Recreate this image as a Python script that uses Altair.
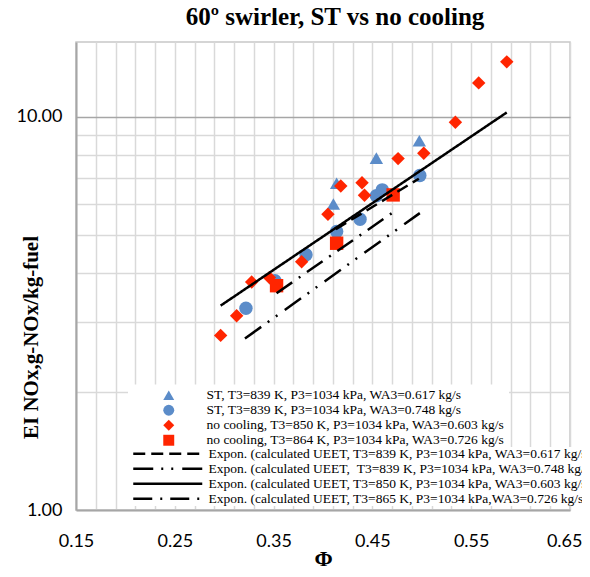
import altair as alt
import pandas as pd

# ---- series names (legend text) ----
series_names = [
    "ST, T3=839 K, P3=1034 kPa, WA3=0.617 kg/s",
    "ST, T3=839 K, P3=1034 kPa, WA3=0.748 kg/s",
    "no cooling, T3=850 K, P3=1034 kPa, WA3=0.603 kg/s",
    "\u00a0no cooling, T3=864 K, P3=1034 kPa, WA3=0.726 kg/s",
]
fit_names = [
    "Expon. (calculated UEET, T3=839 K, P3=1034 kPa, WA3=0.617 kg/s\")",
    "Expon. (calculated UEET, \u00a0T3=839 K, P3=1034 kPa, WA3=0.748 kg/s\")",
    "Expon. (calculated UEET, T3=850 K, P3=1034 kPa, WA3=0.603 kg/s\")",
    "Expon. (calculated UEET, T3=865 K, P3=1034 kPa,WA3=0.726 kg/s\")",
]

# ---- measured points ----
tri_phi = [0.4105, 0.4138, 0.454, 0.4975]
tri_ei = [6.0, 6.78, 7.85, 8.69]
circ_phi = [0.322, 0.3514, 0.3828, 0.4138, 0.4375, 0.454, 0.460, 0.498]
circ_ei = [3.26, 3.83, 4.46, 5.11, 5.49, 6.30, 6.52, 7.09]
dia_phi = [0.2964, 0.3126, 0.3278, 0.3457, 0.3784, 0.405, 0.418, 0.4395, 0.442, 0.476, 0.502, 0.534, 0.5576, 0.586]
dia_ei = [2.78, 3.12, 3.80, 3.90, 4.28, 5.65, 6.67, 6.80, 6.32, 7.83, 8.08, 9.69, 12.2, 13.8]
sq_phi = [0.353, 0.4138, 0.471]
sq_ei = [3.72, 4.77, 6.33]

# ---- exponential fits (end points, straight on log axis) ----
fit1_phi = [0.413, 0.497]
fit1_ei = [5.18, 6.96]
fit2_phi = [0.321, 0.498]
fit2_ei = [2.73, 5.69]
fit3_phi = [0.2964, 0.586]
fit3_ei = [3.31, 10.26]
fit4_phi = [0.353, 0.472]
fit4_ei = [3.56, 5.74]

# ---- axis ticks ----
x_grid = [round(0.15 + 0.02 * k, 2) for k in range(26)]
y_grid = [1, 2, 3, 4, 5, 6, 7, 8, 9, 10]

pts = pd.concat([
    pd.DataFrame({"phi": tri_phi, "ei": tri_ei, "series": series_names[0]}),
    pd.DataFrame({"phi": circ_phi, "ei": circ_ei, "series": series_names[1]}),
    pd.DataFrame({"phi": dia_phi, "ei": dia_ei, "series": series_names[2]}),
    pd.DataFrame({"phi": sq_phi, "ei": sq_ei, "series": series_names[3]}),
], ignore_index=True)
pts["order"] = range(len(pts))

fits = pd.concat([
    pd.DataFrame({"phi": fit1_phi, "ei": fit1_ei, "fit": fit_names[0]}),
    pd.DataFrame({"phi": fit2_phi, "ei": fit2_ei, "fit": fit_names[1]}),
    pd.DataFrame({"phi": fit3_phi, "ei": fit3_ei, "fit": fit_names[2]}),
    pd.DataFrame({"phi": fit4_phi, "ei": fit4_ei, "fit": fit_names[3]}),
], ignore_index=True)

blue = "#5b8cc9"
red = "#ff2500"

x_axis = alt.Axis(
    values=x_grid,
    labelExpr="round(datum.value*100) % 10 == 5 ? format(datum.value, '.2f') : ''",
    title="Φ", titleFont="Liberation Serif", titleFontSize=22, titleFontWeight="bold",
    titleColor="black", titlePadding=-2,
    labelFont="Lato", labelFontSize=18, labelColor="black", labelPadding=22,
    labelAlign={"condition": {"test": "datum.value > 0.64", "value": "right"}, "value": "center"},
    labelOffset={"condition": {"test": "datum.value > 0.64", "value": 12}, "value": 0},
    ticks=False, grid=True, gridColor="#d9d9d9", gridWidth=1.5,
    domainColor="#a6a6a6", domainWidth=2, labelOverlap=False, labelFlush=False,
)
y_axis = alt.Axis(
    values=y_grid,
    labelExpr="datum.value == 1 || datum.value == 10 ? format(datum.value, '.2f') : ''",
    title="EI NOx,g-NOx/kg-fuel", titleFont="Liberation Serif", titleFontSize=21,
    titleFontWeight="bold", titleColor="black", titleX=-35, titleY=295,
    labelFont="Lato", labelFontSize=18, labelColor="black", labelPadding=14,
    ticks=False, grid=True,
    gridColor={"condition": {"test": "datum.value == 10", "value": "#a6a6a6"}, "value": "#d9d9d9"},
    gridWidth=1.5, domainColor="#a6a6a6", domainWidth=2, labelOverlap=False,
)

x_enc = alt.X("phi:Q", scale=alt.Scale(domain=[0.15, 0.65], nice=False, zero=False), axis=x_axis)
y_enc = alt.Y("ei:Q", scale=alt.Scale(type="log", domain=[1, 15.5], nice=False), axis=y_axis)

leg_pts = alt.Legend(
    title=None, orient="none", legendX=52, legendY=342.5, direction="vertical",
    fillColor="white", padding=4, labelFont="Liberation Serif", labelFontSize=13.5,
    labelColor="black", labelLimit=700, symbolSize=120, symbolOffset=30, labelOffset=31,
    rowPadding=0, symbolStrokeWidth=0,
)
leg_lines = alt.Legend(
    title=None, orient="none", legendX=52, legendY=405, direction="vertical",
    fillColor="white", padding=0, labelFont="Liberation Serif", labelFontSize=13.5,
    labelColor="black", labelLimit=700, symbolType="M-6.9,0H6.9", symbolSize=100,
    symbolStrokeColor="black", symbolStrokeWidth=2.5, symbolFillColor="transparent",
    symbolOffset=33, labelOffset=34, rowPadding=0,
)

points = alt.Chart(pts).mark_point(filled=True, opacity=1, size=180).encode(
    x=x_enc,
    y=y_enc,
    shape=alt.Shape("series:N", scale=alt.Scale(domain=series_names,
                    range=["triangle-up", "circle", "diamond", "square"]), legend=leg_pts),
    color=alt.Color("series:N", scale=alt.Scale(domain=series_names,
                    range=[blue, blue, red, red]), legend=leg_pts),
    order=alt.Order("order:Q"),
)

lines = alt.Chart(fits).mark_line(color="black", strokeWidth=2.5).encode(
    x=x_enc,
    y=y_enc,
    strokeDash=alt.StrokeDash("fit:N", scale=alt.Scale(domain=fit_names,
                              range=[[12, 6], [20, 8, 2, 8, 2, 9], [1, 0], [19, 8, 2, 8]]),
                              legend=leg_lines),
)

chart = alt.layer(points, lines).properties(
    width=494, height=468,
    title=alt.TitleParams("60º swirler, ST vs no cooling", font="Liberation Serif",
                          fontSize=25, fontWeight="bold", color="black", offset=12, dx=12),
    autosize=alt.AutoSizeParams(type="none"),
    padding={"left": 68, "top": 34, "right": 12, "bottom": 59},
).configure_view(stroke="#c8c8c8", strokeWidth=1.5)

chart.save("out.html", embed_options={"renderer": "svg", "actions": False})
